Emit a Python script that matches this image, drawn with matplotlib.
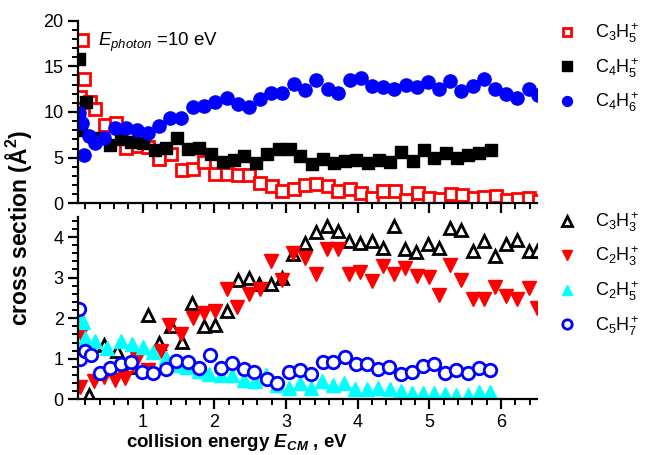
import matplotlib
matplotlib.use("Agg")
import matplotlib.pyplot as plt
from matplotlib.ticker import MultipleLocator

plt.rcParams["font.family"] = ["Liberation Sans", "DejaVu Sans"]
plt.rcParams["mathtext.fontset"] = "custom"
plt.rcParams["mathtext.rm"] = "Liberation Sans"
plt.rcParams["mathtext.it"] = "Liberation Sans:italic"
plt.rcParams["mathtext.bf"] = "Liberation Sans:bold"
plt.rcParams["mathtext.bfit"] = "Liberation Sans:italic:bold"

# ---- top panel data ----
c3h5_x = [0.12, 0.15, 0.18, 0.26, 0.34, 0.47, 0.62, 0.77, 0.93, 1.07, 1.23, 1.39, 1.55, 1.70,
          1.86, 2.01, 2.17, 2.33, 2.49, 2.64, 2.80, 2.95, 3.11, 3.27, 3.42, 3.58, 3.73, 3.89,
          4.05, 4.20, 4.36, 4.52, 4.68, 4.84, 4.99, 5.15, 5.30, 5.46, 5.62, 5.77, 5.93, 6.08,
          6.24, 6.39, 6.53]
c3h5_y = [11.6, 17.9, 13.6, 11.1, 10.3, 8.6, 8.8, 6.1, 6.3, 6.2, 4.8, 5.4, 3.7, 3.8,
          4.5, 3.2, 3.2, 3.1, 3.1, 2.2, 1.9, 1.4, 1.6, 2.0, 2.15, 1.9, 1.3, 1.6,
          1.1, 0.6, 1.3, 1.3, 0.4, 1.1, 0.6, 0.45, 1.0, 0.9, 0.6, 0.7, 0.8, 0.4,
          0.45, 0.55, 0.3]

c4h5_x = [0.11, 0.14, 0.21, 0.35, 0.54, 0.70, 0.84, 1.01, 1.17, 1.33, 1.48, 1.63, 1.78, 1.95,
          2.12, 2.27, 2.42, 2.58, 2.74, 2.90, 3.05, 3.20, 3.36, 3.52, 3.67, 3.83, 3.98, 4.14,
          4.30, 4.45, 4.61, 4.77, 4.92, 5.07, 5.23, 5.39, 5.54, 5.70, 5.86]
c4h5_y = [15.8, 8.0, 11.1, 7.2, 6.4, 7.0, 6.75, 6.6, 5.8, 6.1, 7.2, 5.9, 6.1, 5.4,
          4.5, 4.7, 5.2, 4.45, 5.4, 5.9, 5.9, 5.2, 4.3, 4.8, 4.4, 4.6, 4.7, 4.4,
          4.75, 4.5, 5.6, 4.6, 5.8, 5.0, 5.5, 5.0, 5.3, 5.5, 5.8]

c4h6_x = [0.11, 0.15, 0.18, 0.25, 0.34, 0.46, 0.61, 0.77, 0.92, 1.08, 1.23, 1.38, 1.54, 1.70,
          1.85, 2.01, 2.17, 2.33, 2.49, 2.64, 2.79, 2.95, 3.11, 3.27, 3.42, 3.58, 3.73, 3.89,
          4.05, 4.20, 4.36, 4.51, 4.67, 4.83, 4.98, 5.14, 5.29, 5.45, 5.61, 5.76, 5.92, 6.07,
          6.23, 6.39, 6.52]
c4h6_y = [9.9, 8.8, 5.3, 7.4, 6.6, 7.2, 8.3, 8.2, 8.0, 7.7, 8.5, 9.3, 9.3, 10.5,
          10.7, 11.1, 11.5, 10.9, 10.6, 11.4, 12.1, 12.1, 13.1, 12.4, 13.5, 12.5, 12.05, 13.5,
          13.7, 12.8, 12.7, 12.5, 13.0, 12.7, 13.25, 12.5, 13.4, 12.3, 12.8, 13.6, 12.5, 12.0,
          11.5, 12.5, 11.9]

# ---- bottom panel data ----
c3h3_x = [0.25, 0.46, 0.64, 0.83, 1.08, 1.22, 1.39, 1.55, 1.69, 1.85, 2.01, 2.17, 2.33, 2.48,
          2.63, 2.79, 2.95, 3.10, 3.26, 3.42, 3.57, 3.73, 3.88, 4.04, 4.20, 4.35, 4.51, 4.66,
          4.82, 4.98, 5.14, 5.29, 5.45, 5.61, 5.76, 5.92, 6.07, 6.23, 6.39, 6.51]
c3h3_y = [0.1, 1.35, 1.18, 0.8, 2.08, 1.39, 1.8, 1.42, 2.38, 1.8, 1.82, 2.18, 2.93, 2.99,
          2.85, 2.85, 3.0, 3.57, 3.84, 4.12, 4.26, 4.15, 3.9, 3.84, 3.9, 3.74, 4.27, 3.71,
          3.63, 3.82, 3.74, 4.21, 4.17, 3.65, 3.89, 3.53, 3.82, 3.93, 3.65, 3.65]

c2h3_x = [0.12, 0.14, 0.32, 0.46, 0.61, 0.75, 0.86, 0.92, 1.08, 1.25, 1.37, 1.54, 1.70, 1.85,
          2.01, 2.17, 2.32, 2.48, 2.64, 2.79, 2.94, 3.10, 3.26, 3.42, 3.57, 3.73, 3.88, 4.04,
          4.20, 4.35, 4.51, 4.66, 4.83, 4.99, 5.14, 5.29, 5.45, 5.61, 5.77, 5.92, 6.07, 6.23,
          6.39, 6.51]
c2h3_y = [0.3, 1.6, 0.45, 0.55, 0.48, 0.52, 0.85, 1.0, 0.72, 1.18, 1.82, 1.6, 2.0, 2.13,
          2.17, 2.72, 2.28, 2.6, 2.71, 3.41, 2.93, 3.61, 3.49, 3.1, 3.71, 3.7, 3.1, 3.13,
          2.91, 3.28, 3.1, 3.24, 3.03, 3.02, 2.56, 3.32, 2.95, 2.46, 2.46, 2.77, 2.54, 2.46,
          2.75, 2.25]

c2h5_x = [0.13, 0.16, 0.20, 0.34, 0.50, 0.69, 0.85, 1.01, 1.15, 1.32, 1.48, 1.62, 1.78, 1.93,
          2.09, 2.25, 2.41, 2.57, 2.72, 2.87, 3.04, 3.20, 3.35, 3.50, 3.66, 3.81, 3.97, 4.13,
          4.28, 4.45, 4.60, 4.76, 4.91, 5.07, 5.22, 5.38, 5.54, 5.70, 5.85]
c2h5_y = [2.05, 1.9, 1.51, 1.43, 1.26, 1.43, 1.37, 1.3, 1.16, 1.01, 0.85, 0.8, 0.7, 0.62,
          0.6, 0.6, 0.48, 0.46, 0.6, 0.35, 0.27, 0.4, 0.27, 0.44, 0.35, 0.41, 0.25, 0.25,
          0.27, 0.25, 0.21, 0.16, 0.16, 0.15, 0.12, 0.1, 0.1, 0.19, 0.19]

c5h7_x = [0.11, 0.13, 0.19, 0.28, 0.41, 0.54, 0.69, 0.84, 0.99, 1.15, 1.32, 1.47, 1.63, 1.78,
          1.94, 2.09, 2.25, 2.41, 2.56, 2.73, 2.88, 3.04, 3.19, 3.35, 3.51, 3.66, 3.82, 3.98,
          4.13, 4.28, 4.44, 4.60, 4.76, 4.91, 5.07, 5.22, 5.38, 5.54, 5.70, 5.85]
c5h7_y = [2.22, 1.0, 1.18, 1.1, 0.66, 0.76, 0.88, 0.93, 0.68, 0.64, 0.74, 0.95, 0.91, 0.76,
          1.1, 0.78, 0.89, 0.75, 0.68, 0.49, 0.41, 0.68, 0.73, 0.62, 0.91, 0.92, 1.04, 0.87,
          0.87, 0.74, 0.8, 0.63, 0.67, 0.82, 0.87, 0.66, 0.71, 0.64, 0.77, 0.71]

fig = plt.figure(figsize=(6.47, 4.55), dpi=100)
ax1 = fig.add_axes([0.121, 0.5532, 0.7085, 0.4013])
ax2 = fig.add_axes([0.121, 0.1224, 0.7085, 0.4013])

ax1.plot(c3h5_x, c3h5_y, ls="none", marker="s", ms=8, mfc="white", mec="red", mew=2,
         label=r"$\mathregular{C_3H_5^+}$")
ax1.plot(c4h5_x, c4h5_y, ls="none", marker="s", ms=9, color="black",
         label=r"$\mathregular{C_4H_5^+}$")
ax1.plot(c4h6_x, c4h6_y, ls="none", marker="o", ms=9.5, color="blue",
         label=r"$\mathregular{C_4H_6^+}$")

ax2.plot(c3h3_x, c3h3_y, ls="none", marker="^", ms=9, mfc="white", mec="black", mew=2,
         label=r"$\mathregular{C_3H_3^+}$")
ax2.plot(c2h3_x, c2h3_y, ls="none", marker="v", ms=10, color="red",
         label=r"$\mathregular{C_2H_3^+}$")
ax2.plot(c2h5_x, c2h5_y, ls="none", marker="^", ms=10, color="cyan",
         label=r"$\mathregular{C_2H_5^+}$")
ax2.plot(c5h7_x, c5h7_y, ls="none", marker="o", ms=9, mfc="white", mec="blue", mew=2,
         label=r"$\mathregular{C_5H_7^+}$")

for ax, ytop in ((ax1, 1.035), (ax2, 1.075)):
    ax.set_xlim(0.1, 6.5)
    ax.spines["top"].set_visible(False)
    ax.spines["right"].set_visible(False)
    ax.spines["left"].set_linewidth(1.6)
    ax.spines["bottom"].set_linewidth(1.6)
    ax.xaxis.set_major_locator(MultipleLocator(1))
    ax.xaxis.set_minor_locator(MultipleLocator(0.2))
    ax.tick_params(which="major", direction="out", length=7, width=1.6, labelsize=13)
    ax.tick_params(which="minor", direction="out", length=4, width=1.4)
    ax.legend(loc="upper left", bbox_to_anchor=(1.033, ytop), borderaxespad=0,
              frameon=False, fontsize=13, handletextpad=1.1, labelspacing=0.6,
              handlelength=0.9, markerscale=0.75)

ax1.set_ylim(0, 20)
ax1.yaxis.set_major_locator(MultipleLocator(5))
ax1.yaxis.set_minor_locator(MultipleLocator(1))
ax1.tick_params(axis="x", labelbottom=False)

ax2.set_ylim(0, 4.5)
ax2.yaxis.set_major_locator(MultipleLocator(1))
ax2.yaxis.set_minor_locator(MultipleLocator(0.2))

ax1.text(0.37, 17.6, r"$E_{photon}$ =10 eV", fontsize=13.5, va="center")

fig.text(0.028, 0.5, r"cross section (Å$\mathbf{^2}$)", rotation=90, fontsize=16.5,
         fontweight="bold", ha="center", va="center")
fig.text(0.366, 0.028, r"collision energy $\mathbfit{E_{CM}}$ , eV", fontsize=13.5,
         fontweight="bold", ha="center", va="center")

fig.savefig("out.png", dpi=100)
